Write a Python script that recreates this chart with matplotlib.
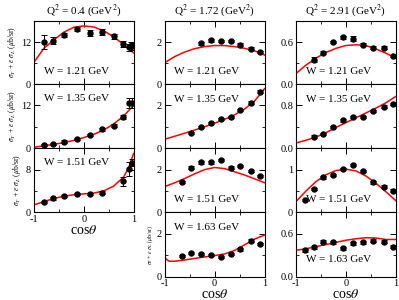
import matplotlib
matplotlib.use('Agg')
import matplotlib.pyplot as plt
from matplotlib.ticker import MultipleLocator

plt.rcParams['font.family'] = ['Liberation Serif', 'DejaVu Serif']
plt.rcParams['mathtext.fontset'] = 'stix'

# ---------------- data: Q^2 = 0.4 GeV^2 ----------------
q04_w121_x = [-0.80, -0.61, -0.39, -0.14, 0.12, 0.37, 0.60, 0.79, 0.91, 0.96]
q04_w121_y = [12.0, 12.3, 14.0, 15.7, 14.5, 14.9, 13.6, 11.5, 10.5, 10.8]
q04_w121_e = [2.0, 1.0, 0.7, 0.6, 0.8, 0.8, 0.8, 0.8, 1.0, 1.0]
q04_w121_cx = [-1.0, -0.8, -0.6, -0.4, -0.2, 0.0, 0.2, 0.4, 0.6, 0.8, 1.0]
q04_w121_cy = [6.2, 10.2, 12.6, 14.8, 16.2, 16.6, 16.3, 15.2, 13.5, 11.3, 8.9]

q04_w135_x = [-0.80, -0.61, -0.39, -0.14, 0.12, 0.37, 0.60, 0.79, 0.91, 0.96]
q04_w135_y = [0.9, 1.1, 1.9, 2.7, 3.7, 5.3, 6.3, 8.7, 12.7, 12.7]
q04_w135_e = [0.3, 0.3, 0.3, 0.3, 0.3, 0.4, 0.4, 0.6, 1.5, 1.5]
q04_w135_cx = [-1.0, -0.8, -0.6, -0.4, -0.2, 0.0, 0.2, 0.4, 0.6, 0.8, 0.9, 1.0]
q04_w135_cy = [0.3, 0.7, 1.1, 1.6, 2.2, 3.0, 3.9, 5.1, 6.8, 9.0, 10.5, 12.0]

q04_w151_x = [-0.80, -0.61, -0.39, -0.14, 0.12, 0.37, 0.79, 0.91, 0.96]
q04_w151_y = [2.0, 2.6, 3.1, 3.4, 3.4, 3.7, 5.8, 8.1, 9.3]
q04_w151_e = [0.2, 0.2, 0.2, 0.2, 0.2, 0.3, 0.9, 1.3, 0.7]
q04_w151_cx = [-1.0, -0.8, -0.6, -0.4, -0.2, 0.0, 0.2, 0.4, 0.6, 0.8, 0.9, 1.0]
q04_w151_cy = [1.4, 2.0, 2.6, 3.0, 3.3, 3.45, 3.6, 4.0, 4.9, 6.6, 8.3, 11.0]

# ---------------- data: Q^2 = 1.72 GeV^2 ----------------
q172_w121_x = [-0.28, -0.08, 0.12, 0.32, 0.50, 0.72, 0.90]
q172_w121_y = [1.93, 2.08, 2.04, 2.05, 1.88, 1.69, 1.53]
q172_w121_e = [0.06, 0.06, 0.06, 0.06, 0.06, 0.06, 0.06]
q172_w121_cx = [-1.0, -0.8, -0.6, -0.4, -0.2, 0.0, 0.2, 0.4, 0.6, 0.8, 1.0]
q172_w121_cy = [1.01, 1.30, 1.52, 1.68, 1.78, 1.83, 1.83, 1.78, 1.70, 1.58, 1.38]

q172_w135_x = [-0.48, -0.28, -0.08, 0.12, 0.32, 0.50, 0.72, 0.90]
q172_w135_y = [0.73, 0.98, 1.19, 1.35, 1.45, 1.79, 2.13, 2.64]
q172_w135_e = [0.05, 0.05, 0.05, 0.05, 0.05, 0.06, 0.06, 0.07]
q172_w135_cx = [-1.0, -0.8, -0.6, -0.4, -0.2, 0.0, 0.2, 0.4, 0.6, 0.8, 1.0]
q172_w135_cy = [0.42, 0.56, 0.70, 0.85, 1.00, 1.17, 1.35, 1.56, 1.83, 2.20, 2.78]

q172_w151_x = [-0.66, -0.48, -0.28, -0.08, 0.12, 0.32, 0.50, 0.72, 0.90]
q172_w151_y = [1.43, 2.09, 2.34, 2.34, 2.45, 2.09, 2.17, 1.94, 1.70]
q172_w151_e = [0.06, 0.06, 0.06, 0.06, 0.06, 0.06, 0.06, 0.06, 0.06]
q172_w151_cx = [-1.0, -0.8, -0.6, -0.4, -0.2, 0.0, 0.2, 0.4, 0.6, 0.8, 1.0]
q172_w151_cy = [1.20, 1.38, 1.58, 1.80, 2.00, 2.10, 2.05, 1.90, 1.75, 1.57, 1.39]

q172_w163_x = [-0.66, -0.48, -0.28, -0.08, 0.12, 0.32, 0.50, 0.72, 0.90]
q172_w163_y = [0.98, 1.09, 1.07, 1.01, 0.93, 1.04, 1.28, 1.68, 1.52]
q172_w163_e = [0.05, 0.05, 0.05, 0.05, 0.05, 0.05, 0.06, 0.06, 0.06]
q172_w163_cx = [-1.0, -0.95, -0.9, -0.8, -0.6, -0.4, -0.2, 0.0, 0.2, 0.4, 0.6, 0.8, 1.0]
q172_w163_cy = [0.93, 0.78, 0.72, 0.72, 0.78, 0.85, 0.92, 0.98, 1.06, 1.22, 1.48, 1.75, 1.94]

# ---------------- data: Q^2 = 2.91 GeV^2 ----------------
q291_w121_x = [-0.65, -0.47, -0.27, -0.07, 0.13, 0.33, 0.53, 0.75, 0.93]
q291_w121_y = [0.35, 0.45, 0.60, 0.67, 0.65, 0.56, 0.52, 0.52, 0.40]
q291_w121_e = [0.04, 0.02, 0.02, 0.02, 0.03, 0.02, 0.02, 0.02, 0.02]
q291_w121_cx = [-1.0, -0.8, -0.6, -0.4, -0.2, 0.0, 0.2, 0.4, 0.6, 0.8, 1.0]
q291_w121_cy = [0.15, 0.27, 0.37, 0.45, 0.51, 0.55, 0.56, 0.55, 0.50, 0.44, 0.37]

q291_w135_x = [-0.65, -0.47, -0.27, -0.07, 0.13, 0.33, 0.53, 0.75, 0.93]
q291_w135_y = [0.22, 0.27, 0.40, 0.52, 0.59, 0.59, 0.70, 0.78, 0.82]
q291_w135_e = [0.02, 0.02, 0.02, 0.02, 0.02, 0.02, 0.02, 0.02, 0.02]
q291_w135_cx = [-1.0, -0.8, -0.6, -0.4, -0.2, 0.0, 0.2, 0.4, 0.6, 0.8, 1.0]
q291_w135_cy = [0.10, 0.15, 0.21, 0.29, 0.39, 0.48, 0.57, 0.66, 0.75, 0.85, 0.97]

q291_w151_x = [-0.83, -0.65, -0.47, -0.27, -0.07, 0.13, 0.33, 0.53, 0.75, 0.93]
q291_w151_y = [0.29, 0.55, 0.82, 0.87, 1.01, 1.11, 0.97, 0.70, 0.60, 0.51]
q291_w151_e = [0.03, 0.03, 0.03, 0.03, 0.03, 0.03, 0.03, 0.03, 0.03, 0.03]
q291_w151_cx = [-1.0, -0.8, -0.6, -0.4, -0.2, 0.0, 0.2, 0.4, 0.6, 0.8, 1.0]
q291_w151_cy = [0.25, 0.50, 0.72, 0.88, 0.98, 1.01, 0.97, 0.85, 0.68, 0.48, 0.27]

q291_w163_x = [-0.83, -0.65, -0.47, -0.27, -0.07, 0.13, 0.33, 0.53, 0.75, 0.93]
q291_w163_y = [0.37, 0.41, 0.49, 0.48, 0.40, 0.47, 0.48, 0.50, 0.49, 0.42]
q291_w163_e = [0.02, 0.02, 0.02, 0.02, 0.02, 0.02, 0.02, 0.02, 0.02, 0.02]
q291_w163_cx = [-1.0, -0.8, -0.6, -0.4, -0.2, 0.0, 0.2, 0.4, 0.6, 0.8, 1.0]
q291_w163_cy = [0.37, 0.39, 0.42, 0.45, 0.48, 0.51, 0.53, 0.545, 0.54, 0.52, 0.52]

titles = [r'Q$^2$ = 0.4 (GeV$^2$)', r'Q$^2$ = 1.72 (GeV$^2$)', r'Q$^2$ = 2.91 (GeV$^2$)']
YLABEL = r'$\sigma_T$ + $\varepsilon$ $\sigma_L$ ($\mu$b/sr)'

W_PX, H_PX = 399, 300
TICK_SIZE = 7.5
TEXT_SIZE = 8


def rect(x0, y0, x1, y1):
    # pixel box (top-left origin) -> figure fraction
    return [x0 / W_PX, 1 - y1 / H_PX, (x1 - x0) / W_PX, (y1 - y0) / H_PX]


def draw_panel(fig, box, px, py, pe, cx, cy, ymax, major, label, label_y, bottom=False):
    ax = fig.add_axes(rect(*box))
    ax.plot(cx, cy, color='red', lw=1.1, zorder=2)
    ax.errorbar(px, py, yerr=pe, fmt='o', color='black', ms=3.6, elinewidth=0.7,
                capsize=2.5, capthick=0.7, zorder=3)
    ax.set_xlim(-1, 1)
    ax.set_ylim(0, ymax)
    ax.xaxis.set_major_locator(MultipleLocator(1))
    ax.xaxis.set_minor_locator(MultipleLocator(0.5))
    ax.yaxis.set_major_locator(MultipleLocator(major))
    ax.yaxis.set_minor_locator(MultipleLocator(major / 2))
    ax.tick_params(which='both', direction='in', top=True, right=True, labelsize=TICK_SIZE, pad=2)
    ax.tick_params(which='major', length=4, width=0.7)
    ax.tick_params(which='minor', length=2, width=0.6)
    for s in ax.spines.values():
        s.set_linewidth(0.8)
    ax.set_yticks([t for t in ax.get_yticks() if t < ymax * 0.99])
    ax.set_ylim(0, ymax)
    if bottom:
        ax.set_xticks([-1, 0, 1])
        ax.set_xticklabels(['-1', '0', '1'])
        ax.set_xlabel(r'cos$\theta$', fontsize=10, labelpad=0)
    else:
        ax.tick_params(labelbottom=False)
    ax.text(0.1, label_y, label, transform=ax.transAxes, fontsize=TEXT_SIZE, va='center')
    return ax


fig = plt.figure(figsize=(3.99, 3.0), dpi=100)

c1 = (34, 133.5)
c2 = (164.5, 264.5)
c3 = (296, 396)
rows = [(21, 84), (84, 148.3), (148.3, 212.3), (212.3, 276.7)]

# column 1
a = draw_panel(fig, (c1[0], rows[0][0], c1[1], rows[0][1]), q04_w121_x, q04_w121_y, q04_w121_e,
               q04_w121_cx, q04_w121_cy, 18, 12, 'W = 1.21 GeV', 0.2)
a.set_ylabel(YLABEL, fontsize=5.5, labelpad=2)
a.set_title(titles[0], fontsize=8, pad=5)
a = draw_panel(fig, (c1[0], rows[1][0], c1[1], rows[1][1]), q04_w135_x, q04_w135_y, q04_w135_e,
               q04_w135_cx, q04_w135_cy, 18, 12, 'W = 1.35 GeV', 0.78)
a.set_ylabel(YLABEL, fontsize=5.5, labelpad=2)
a = draw_panel(fig, (c1[0], rows[2][0], c1[1], rows[2][1]), q04_w151_x, q04_w151_y, q04_w151_e,
               q04_w151_cx, q04_w151_cy, 12, 8, 'W = 1.51 GeV', 0.78, bottom=True)
a.set_ylabel(YLABEL, fontsize=5.5, labelpad=2)

# column 2
a = draw_panel(fig, (c2[0], rows[0][0], c2[1], rows[0][1]), q172_w121_x, q172_w121_y, q172_w121_e,
               q172_w121_cx, q172_w121_cy, 3, 2, 'W = 1.21 GeV', 0.2)
a.set_title(titles[1], fontsize=8, pad=5)
draw_panel(fig, (c2[0], rows[1][0], c2[1], rows[1][1]), q172_w135_x, q172_w135_y, q172_w135_e,
           q172_w135_cx, q172_w135_cy, 3, 2, 'W = 1.35 GeV', 0.76)
draw_panel(fig, (c2[0], rows[2][0], c2[1], rows[2][1]), q172_w151_x, q172_w151_y, q172_w151_e,
           q172_w151_cx, q172_w151_cy, 3, 2, 'W = 1.51 GeV', 0.2)
a = draw_panel(fig, (c2[0], rows[3][0], c2[1], rows[3][1]), q172_w163_x, q172_w163_y, q172_w163_e,
               q172_w163_cx, q172_w163_cy, 3, 2, 'W = 1.63 GeV', 0.77, bottom=True)
a.set_ylabel(YLABEL, fontsize=4.2, labelpad=1)

# column 3
a = draw_panel(fig, (c3[0], rows[0][0], c3[1], rows[0][1]), q291_w121_x, q291_w121_y, q291_w121_e,
               q291_w121_cx, q291_w121_cy, 0.9, 0.6, 'W = 1.21 GeV', 0.2)
a.set_title(titles[2], fontsize=8, pad=5)
draw_panel(fig, (c3[0], rows[1][0], c3[1], rows[1][1]), q291_w135_x, q291_w135_y, q291_w135_e,
           q291_w135_cx, q291_w135_cy, 1.2, 0.8, 'W = 1.35 GeV', 0.76)
draw_panel(fig, (c3[0], rows[2][0], c3[1], rows[2][1]), q291_w151_x, q291_w151_y, q291_w151_e,
           q291_w151_cx, q291_w151_cy, 1.5, 1, 'W = 1.51 GeV', 0.2)
draw_panel(fig, (c3[0], rows[3][0], c3[1], rows[3][1]), q291_w163_x, q291_w163_y, q291_w163_e,
           q291_w163_cx, q291_w163_cy, 0.9, 0.6, 'W = 1.63 GeV', 0.26, bottom=True)

fig.savefig('out.png', dpi=100)
